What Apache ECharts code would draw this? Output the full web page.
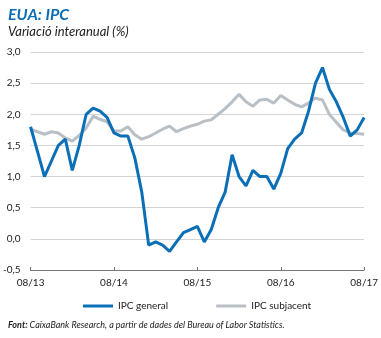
<!DOCTYPE html>
<html>
<head>
<meta charset="utf-8">
<script src="https://cdn.jsdelivr.net/npm/echarts@6/dist/echarts.min.js"></script>
<style>
html,body{margin:0;padding:0;background:#fff;}
#c{width:381px;height:338px;}
</style>
</head>
<body>
<div id="c"></div>
<script>
var categories = ["08/13","09/13","10/13","11/13","12/13","01/14","02/14","03/14","04/14","05/14","06/14","07/14",
"08/14","09/14","10/14","11/14","12/14","01/15","02/15","03/15","04/15","05/15","06/15","07/15",
"08/15","09/15","10/15","11/15","12/15","01/16","02/16","03/16","04/16","05/16","06/16","07/16",
"08/16","09/16","10/16","11/16","12/16","01/17","02/17","03/17","04/17","05/17","06/17","07/17","08/17"];
var ipcGeneral = [1.8,1.4,1.0,1.25,1.5,1.6,1.1,1.5,2.0,2.1,2.05,1.95,
1.7,1.65,1.65,1.3,0.75,-0.1,-0.05,-0.1,-0.2,-0.05,0.1,0.15,
0.2,-0.05,0.15,0.5,0.75,1.35,1.0,0.85,1.1,1.0,1.0,0.8,
1.05,1.45,1.6,1.7,2.05,2.5,2.75,2.4,2.2,1.95,1.65,1.75,1.95];
var ipcSubjacent = [1.76,1.72,1.68,1.72,1.7,1.62,1.57,1.66,1.78,1.97,1.92,1.88,
1.73,1.73,1.8,1.67,1.6,1.64,1.7,1.76,1.81,1.72,1.77,1.81,
1.84,1.89,1.91,2.0,2.09,2.2,2.32,2.2,2.13,2.23,2.24,2.18,
2.3,2.23,2.16,2.12,2.18,2.26,2.23,2.0,1.87,1.75,1.7,1.69,1.68];
var yTicks = {min:-0.5, max:3.0, interval:0.5};

var FONT = 'Lato';
var chart = echarts.init(document.getElementById('c'), null, {renderer:'canvas'});
chart.setOption({
  animation:false,
  textStyle:{fontFamily:FONT},
  title:[
    {text:'EUA: IPC', left:3, top:2, textStyle:{fontFamily:FONT,fontSize:16,fontWeight:'bold',fontStyle:'italic',color:'#0a6eb4'}},
    {text:'Variació interanual (%)', left:3, top:20, textStyle:{fontFamily:FONT,fontSize:13,fontWeight:'normal',fontStyle:'italic',color:'#222'}},
    {text:'{b|Font:} {n|CaixaBank Research, a partir de dades del Bureau of Labor Statistics.}', left:3, top:316,
     textStyle:{fontFamily:FONT, fontSize:9, fontStyle:'italic', fontWeight:'normal', color:'#222',
       rich:{b:{fontFamily:FONT,fontSize:9,fontWeight:'bold',fontStyle:'italic',color:'#222'},
             n:{fontFamily:FONT,fontSize:9,fontWeight:'normal',fontStyle:'italic',color:'#222'}}}}
  ],
  legend:{
    data:['IPC general','IPC subjacent'],
    left:78, top:296, itemWidth:30, itemHeight:3, itemGap:48, icon:'rect',
    textStyle:{fontFamily:FONT,fontSize:10,color:'#222'}
  },
  grid:{left:30, right:16, top:52, bottom:68, containLabel:false},
  xAxis:[
    {type:'category', data:categories, boundaryGap:false, position:'bottom',
     axisLine:{show:false}, axisTick:{show:false},
     axisLabel:{interval:11, margin:8, fontSize:10, color:'#222', fontFamily:FONT}},
    {type:'category', data:categories, boundaryGap:false, position:'bottom',
     axisLine:{show:true, onZero:true, lineStyle:{color:'#777', width:1}},
     axisTick:{show:true, inside:true, length:3, interval:11, lineStyle:{color:'#777'}},
     axisLabel:{show:false}}
  ],
  yAxis:{type:'value', min:yTicks.min, max:yTicks.max, interval:yTicks.interval,
    axisLine:{show:false}, axisTick:{show:false},
    splitLine:{lineStyle:{color:'#d4d4d4', width:1}},
    axisLabel:{margin:10, fontSize:10, color:'#222', fontFamily:FONT,
      formatter:function(v){return v.toFixed(1).replace('.',',');}}},
  series:[
    {name:'IPC subjacent', type:'line', data:ipcSubjacent, showSymbol:false, symbol:'none',
     lineStyle:{color:'#b8c0c6', width:3}, itemStyle:{color:'#b8c0c6'}},
    {name:'IPC general', type:'line', data:ipcGeneral, showSymbol:false, symbol:'none',
     lineStyle:{color:'#0b6fb8', width:3}, itemStyle:{color:'#0b6fb8'}}
  ]
});
</script>
</body>
</html>
